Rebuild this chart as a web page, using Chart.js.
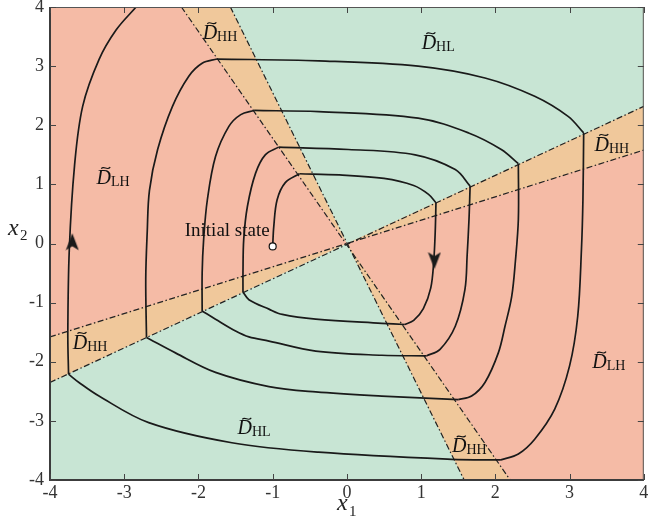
<!DOCTYPE html>
<html>
<head>
<meta charset="utf-8">
<script src="https://cdn.jsdelivr.net/npm/chart.js@4.4.0/dist/chart.umd.min.js"></script>
<style>
  html, body { margin: 0; padding: 0; background: #fff; }
</style>
</head>
<body>
<canvas id="myChart" width="649" height="520"></canvas>
<script>
// switching lines through the origin, given by their end points on the box
const lineAX = [-2.23, 2.20], lineAY = [4, -4];
const lineBX = [-1.57, 1.58], lineBY = [4, -4];
const lineCX = [-4, 4], lineCY = [-2.35, 2.32];
const lineDX = [-4, 4], lineDY = [-1.58, 1.58];

const xTicks = [-4, -3, -2, -1, 0, 1, 2, 3, 4];
const yTicks = [-4, -3, -2, -1, 0, 1, 2, 3, 4];

// spiral trajectory from the initial state outwards
const trajX = [
  -1.00, -0.985, -0.94, -0.83, -0.64,
  -0.10, 0.50, 0.90, 1.10, 1.20,
  1.19, 1.17, 1.13, 1.03, 0.90, 0.78,
  0.47, -0.42, -0.87, -1.05, -1.32, -1.40,
  -1.40, -1.39, -1.34, -1.23, -1.10, -0.92,
  0.02, 0.92, 1.46, 1.66,
  1.645, 1.62, 1.59, 1.46, 1.255, 1.075,
  0.47, -0.42, -1.05, -1.32, -1.50, -1.77, -1.95,
  -1.95, -1.93, -1.88, -1.77, -1.59, -1.43, -1.25,
  -0.38, 0.96, 1.64, 2.08, 2.31,
  2.31, 2.27, 2.22, 2.13, 2.04, 1.86, 1.68, 1.50,
  0.47, -0.42, -1.05, -1.77, -2.31, -2.70,
  -2.71, -2.69, -2.66, -2.55, -2.35, -2.13, -1.95, -1.75,
  -0.38, 0.96, 1.86, 2.53, 2.98, 3.19,
  3.18, 3.16, 3.11, 3.00, 2.80, 2.53, 2.31, 2.075,
  1.41, -0.38, -1.55, -2.67, -3.34, -3.61, -3.75,
  -3.76, -3.74, -3.67, -3.56, -3.34, -3.11, -2.84
];
const trajY = [
  -0.05, 0.29, 0.74, 1.03, 1.18,
  1.16, 1.10, 0.98, 0.83, 0.69,
  0.20, -0.30, -0.75, -1.10, -1.30, -1.37,
  -1.35, -1.28, -1.20, -1.11, -0.95, -0.82,
  -0.50, 0.07, 0.63, 1.19, 1.50, 1.63,
  1.59, 1.50, 1.25, 0.97,
  0.41, -0.20, -0.78, -1.40, -1.79, -1.90,
  -1.89, -1.82, -1.65, -1.58, -1.48, -1.28, -1.14,
  -0.50, 0.07, 0.74, 1.47, 1.98, 2.18, 2.25,
  2.23, 2.12, 1.87, 1.59, 1.35,
  0.41, -0.30, -0.90, -1.40, -1.85, -2.35, -2.58, -2.64,
  -2.58, -2.51, -2.42, -2.18, -1.85, -1.59,
  -0.60, 0.20, 0.90, 1.59, 2.32, 2.83, 3.05, 3.12,
  3.09, 3.00, 2.80, 2.49, 2.15, 1.87,
  0.74, -0.10, -1.23, -2.07, -2.80, -3.31, -3.56, -3.66,
  -3.65, -3.53, -3.37, -3.03, -2.58, -2.35, -2.21,
  -1.51, -0.10, 1.31, 2.32, 3.11, 3.61, 4.00
];
// points where the trajectory crosses a switching line and bends sharply
const kinks = [4, 9, 15, 21, 27, 31, 37, 44, 51, 56, 64, 70, 78, 84, 92, 99];

// direction arrows on the trajectory
const arrowX = [-3.70, 1.18];
const arrowY = [0.03, -0.29];
const arrowAngle = [0, 180];

// region names and where they are written
const regionText = ['HL', 'HH', 'LH', 'HH', 'HH', 'LH', 'HL', 'HH'];
const regionTextX = [1.23, -1.71, -3.15, 3.57, -3.46, 3.53, -1.25, 1.65];
const regionTextY = [3.41, 3.58, 1.13, 1.69, -1.66, -1.99, -3.11, -3.41];

const PINK = '#f5bba6';
const GREEN = '#c8e5d4';
const ORANGE = '#f0c89b';
const SERIF = '"Liberation Serif", "Times New Roman", serif';

function pts(xs, ys) {
  return xs.map((x, i) => ({ x: x, y: ys[i] }));
}

// stealth-style arrow head, pointing up; Chart.js rotates it per point
function makeArrowHead() {
  const c = document.createElement('canvas');
  c.width = 14;
  c.height = 18;
  const g = c.getContext('2d');
  g.fillStyle = '#1a1a1a';
  g.beginPath();
  g.moveTo(7, 0.5);
  g.lineTo(13.5, 17.5);
  g.lineTo(7, 13.5);
  g.lineTo(0.5, 17.5);
  g.closePath();
  g.fill();
  return c;
}

function area(points, color) {
  return {
    data: points,
    showLine: true,
    fill: 'shape',
    backgroundColor: color,
    borderWidth: 0,
    pointRadius: 0,
    tension: 0,
    order: 5
  };
}

function boundary(xs, ys) {
  return {
    data: pts(xs, ys),
    showLine: true,
    fill: false,
    borderColor: '#222',
    borderWidth: 1.2,
    borderDash: [6, 2.5, 1.5, 2.5],
    pointRadius: 0,
    order: 3
  };
}

const O = { x: 0, y: 0 };
const datasets = [];

// whole box is HH, then the other regions on top
datasets.push(Object.assign(area([
  { x: -4, y: -4 }, { x: 4, y: -4 }, { x: 4, y: 4 }, { x: -4, y: 4 }
], ORANGE), { order: 6 }));
datasets.push(area([O, { x: lineDX[0], y: lineDY[0] }, { x: -4, y: 4 }, { x: lineAX[0], y: lineAY[0] }], PINK));
datasets.push(area([O, { x: lineDX[1], y: lineDY[1] }, { x: 4, y: -4 }, { x: lineAX[1], y: lineAY[1] }], PINK));
datasets.push(area([O, { x: lineBX[0], y: lineBY[0] }, { x: 4, y: 4 }, { x: lineCX[1], y: lineCY[1] }], GREEN));
datasets.push(area([O, { x: lineBX[1], y: lineBY[1] }, { x: -4, y: -4 }, { x: lineCX[0], y: lineCY[0] }], GREEN));

datasets.push(boundary(lineAX, lineAY));
datasets.push(boundary(lineBX, lineBY));
datasets.push(boundary(lineCX, lineCY));
datasets.push(boundary(lineDX, lineDY));

// one smooth piece of trajectory between consecutive kinks
const cuts = [0].concat(kinks, [trajX.length - 1]);
for (let k = 0; k < cuts.length - 1; k++) {
  const a = cuts[k], b = cuts[k + 1];
  datasets.push({
    data: pts(trajX.slice(a, b + 1), trajY.slice(a, b + 1)),
    showLine: true,
    fill: false,
    borderColor: '#1a1a1a',
    borderWidth: 1.7,
    tension: 0.35,
    pointRadius: 0,
    order: 2
  });
}

datasets.push({
  data: pts(arrowX, arrowY),
  showLine: false,
  pointStyle: makeArrowHead(),
  pointRotation: arrowAngle,
  order: 1
});

datasets.push({
  data: [{ x: trajX[0], y: trajY[0] }],
  showLine: false,
  pointRadius: 3.5,
  backgroundColor: '#fff',
  borderColor: '#111',
  borderWidth: 1.2,
  order: 0
});

function drawRegionName(ctx, cx, cy, sub) {
  ctx.font = 'italic 20px ' + SERIF;
  const wD = ctx.measureText('D').width;
  ctx.font = '14px ' + SERIF;
  const wS = ctx.measureText(sub).width;
  const x0 = cx - (wD + wS) / 2;
  const base = cy + 7;
  ctx.fillStyle = '#111';
  ctx.textAlign = 'left';
  ctx.textBaseline = 'alphabetic';
  ctx.font = 'italic 20px ' + SERIF;
  ctx.fillText('D', x0, base);
  ctx.font = '14px ' + SERIF;
  ctx.fillText(sub, x0 + wD, base + 2);
  // tilde over the D
  const tx = x0 + wD / 2 + 2, ty = base - 16;
  ctx.beginPath();
  ctx.moveTo(tx - 4.5, ty + 1);
  ctx.bezierCurveTo(tx - 2, ty - 2.5, tx + 1.5, ty + 3.5, tx + 4.5, ty - 0.5);
  ctx.lineWidth = 1.1;
  ctx.strokeStyle = '#111';
  ctx.stroke();
}

const decorations = {
  id: 'decorations',
  afterDatasetsDraw(chart) {
    const { ctx, scales: { x, y } } = chart;
    ctx.save();
    for (let i = 0; i < regionText.length; i++) {
      drawRegionName(ctx, x.getPixelForValue(regionTextX[i]), y.getPixelForValue(regionTextY[i]), regionText[i]);
    }
    ctx.font = '19px ' + SERIF;
    ctx.fillStyle = '#111';
    ctx.textAlign = 'right';
    ctx.textBaseline = 'alphabetic';
    ctx.fillText('Initial state', x.getPixelForValue(trajX[0]) - 3, y.getPixelForValue(trajY[0]) - 10);
    ctx.restore();
  },
  afterDraw(chart) {
    const { ctx, chartArea: a, scales: { x, y } } = chart;
    ctx.save();
    // frame
    ctx.strokeStyle = '#555';
    ctx.lineWidth = 1;
    ctx.strokeRect(a.left + 0.5, a.top + 0.5, a.right - a.left - 1, a.bottom - a.top - 1);
    ctx.strokeStyle = '#3c3c3c';
    ctx.lineWidth = 2;
    ctx.beginPath();
    ctx.moveTo(a.left, a.top);
    ctx.lineTo(a.left, a.bottom);
    ctx.lineTo(a.right, a.bottom);
    ctx.stroke();
    // inward ticks on all four sides
    ctx.lineWidth = 1;
    ctx.strokeStyle = '#444';
    ctx.beginPath();
    xTicks.forEach(v => {
      const px = Math.round(x.getPixelForValue(v)) + 0.5;
      ctx.moveTo(px, a.bottom); ctx.lineTo(px, a.bottom - 6);
      ctx.moveTo(px, a.top); ctx.lineTo(px, a.top + 6);
    });
    yTicks.forEach(v => {
      const py = Math.round(y.getPixelForValue(v)) + 0.5;
      ctx.moveTo(a.left, py); ctx.lineTo(a.left + 6, py);
      ctx.moveTo(a.right, py); ctx.lineTo(a.right - 6, py);
    });
    ctx.stroke();
    // axis titles x1 and x2
    ctx.fillStyle = '#222';
    ctx.textAlign = 'left';
    ctx.textBaseline = 'alphabetic';
    const x0 = x.getPixelForValue(0);
    ctx.font = 'italic 24px ' + SERIF;
    ctx.fillText('x', x0 - 10, a.bottom + 30);
    ctx.font = '15px ' + SERIF;
    ctx.fillText('1', x0 + 2, a.bottom + 36);
    const y0 = y.getPixelForValue(0);
    ctx.font = 'italic 24px ' + SERIF;
    ctx.fillText('x', 8, y0 - 9);
    ctx.font = '15px ' + SERIF;
    ctx.fillText('2', 20, y0 - 4);
    ctx.restore();
  }
};

const tickFont = { family: SERIF, size: 18 };

new Chart(document.getElementById('myChart'), {
  type: 'scatter',
  data: { datasets: datasets },
  options: {
    responsive: false,
    animation: false,
    layout: { padding: { top: 7, right: 5, left: 0, bottom: 0 } },
    plugins: {
      legend: { display: false },
      tooltip: { enabled: false }
    },
    scales: {
      x: {
        type: 'linear',
        min: -4,
        max: 4,
        afterBuildTicks: s => { s.ticks = xTicks.map(v => ({ value: v })); },
        afterFit: s => { s.height = 40; s.paddingLeft = 0; s.paddingRight = 0; },
        grid: { display: false, drawTicks: false },
        border: { display: false },
        ticks: { font: tickFont, color: '#333', padding: 2, maxRotation: 0 }
      },
      y: {
        type: 'linear',
        min: -4,
        max: 4,
        afterBuildTicks: s => { s.ticks = yTicks.map(v => ({ value: v })); },
        afterFit: s => { s.width = 50; s.paddingTop = 0; s.paddingBottom = 0; },
        grid: { display: false, drawTicks: false },
        border: { display: false },
        ticks: { font: tickFont, color: '#333', padding: 6 }
      }
    }
  },
  plugins: [decorations]
});
</script>
</body>
</html>
